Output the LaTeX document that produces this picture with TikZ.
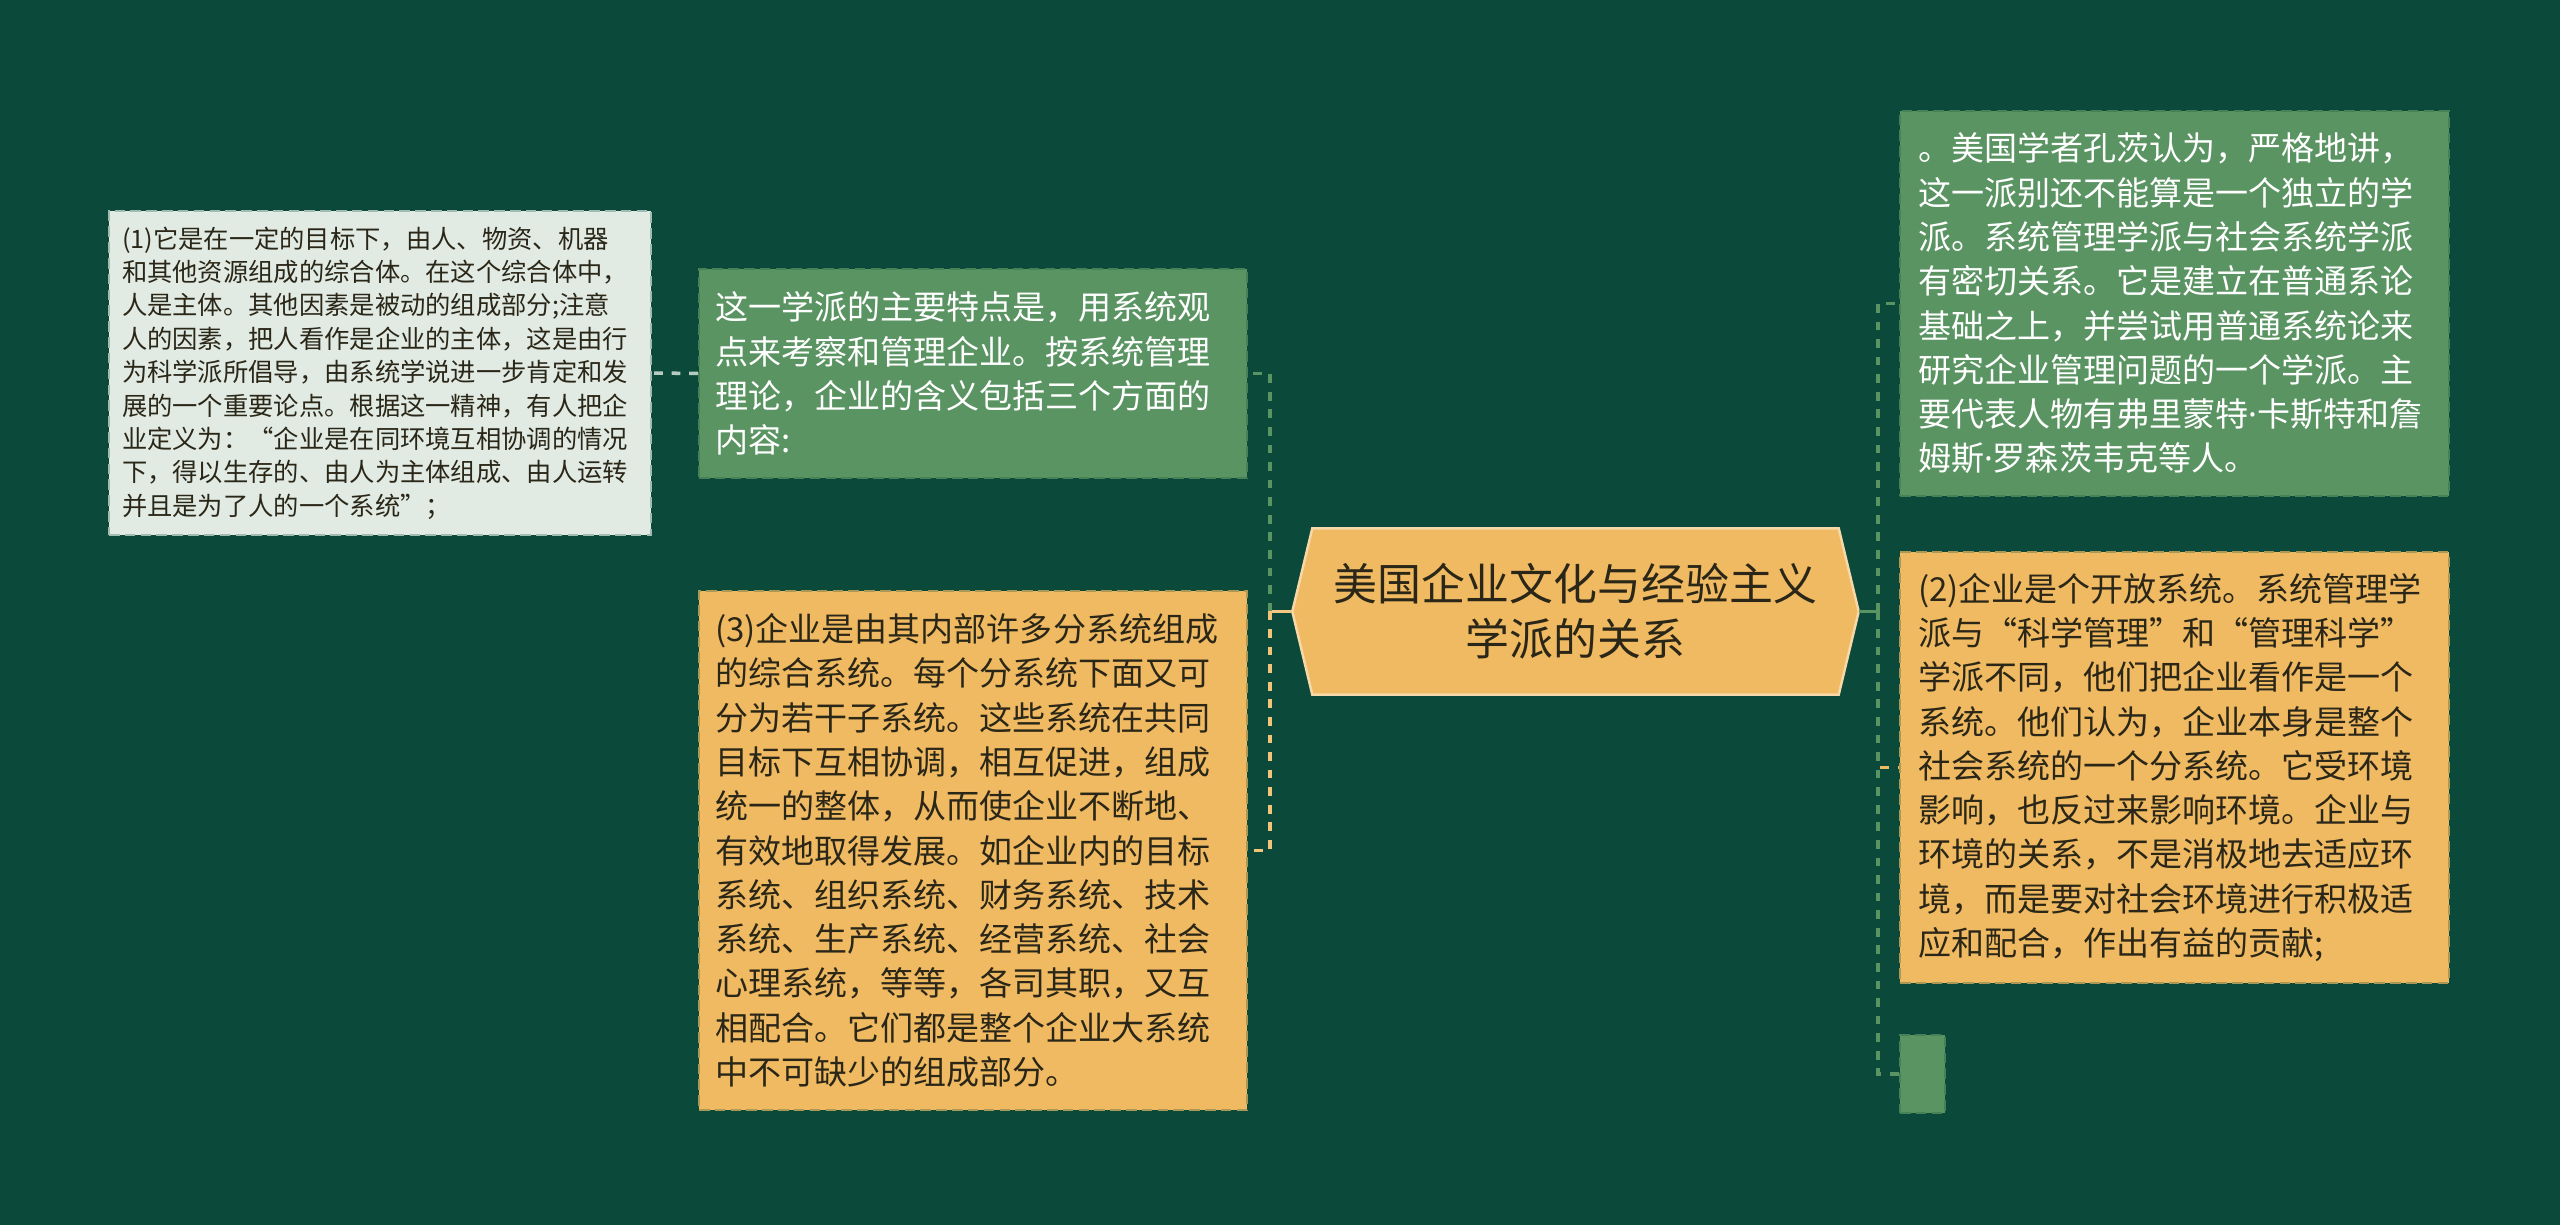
\documentclass[tikz,border=0pt]{standalone}
\usepackage{fontspec}
\setmainfont{Noto Sans CJK SC}
\newfontfamily\latinfont{Noto Sans}
\newcommand\mdot{{\latinfont ·}}
\usetikzlibrary{backgrounds}
\definecolor{bgcol}{HTML}{0B4A3A}
\definecolor{grcol}{HTML}{5A9462}
\definecolor{orcol}{HTML}{F0BA62}
\definecolor{ltcol}{HTML}{E1EBE3}
\definecolor{txdark}{HTML}{2B2718}
\begin{document}
\begin{tikzpicture}[x=1cm,y=-1cm,
  card/.style={rectangle,align=left,inner ysep=0pt,line width=0.6pt,dash pattern=on 3pt off 1.5pt,
    font=\fontsize{9.4pt}{12.6pt}\selectfont},
  greencard/.style={card,fill=grcol,draw=grcol!75!bgcol,text=white},
  orangecard/.style={card,fill=orcol,draw=orcol!70!bgcol,text=txdark},
  lightcard/.style={card,fill=ltcol,draw=ltcol!70!bgcol,text=txdark,
    font=\fontsize{7.2pt}{9.5pt}\selectfont},
  link/.style={line width=1pt},
  dlink/.style={link,dash pattern=on 2.5pt off 2.5pt}]
\useasboundingbox (0,0) rectangle (25.6,12.25);
\node[text=txdark,align=center,minimum width=5.65cm,minimum height=1.65cm,inner sep=0pt,
  font=\fontsize{12.5pt}{15.6pt}\selectfont] (root) at (15.755,6.115)
  {美国企业文化与经验主义\\学派的关系};
\begin{scope}[on background layer]
\fill[bgcol] (0,0) rectangle (25.6,12.25);
\filldraw[fill=orcol,draw=orcol!55!white,line width=0.7pt] (root.west) -- ([xshift=0.2cm]root.north west)
  -- ([xshift=-0.2cm]root.north east) -- (root.east) -- ([xshift=-0.2cm]root.south east)
  -- ([xshift=0.2cm]root.south west) -- cycle;
\end{scope}
\node[greencard,text width=5.16cm,inner xsep=0.16cm,minimum height=2.09cm] (feat) at (9.73,3.735)
  {这一学派的主要特点是，用系统观\\点来考察和管理企业。按系统管理\\理论，企业的含义包括三个方面的\\内容:};
\node[orangecard,text width=5.16cm,inner xsep=0.16cm,minimum height=5.19cm] (part3) at (9.73,8.505)
  {(3)企业是由其内部许多分系统组成\\的综合系统。每个分系统下面又可\\分为若干子系统。这些系统在共同\\目标下互相协调，相互促进，组成\\统一的整体，从而使企业不断地、\\有效地取得发展。如企业内的目标\\系统、组织系统、财务系统、技术\\系统、生产系统、经营系统、社会\\心理系统，等等，各司其职，又互\\相配合。它们都是整个企业大系统\\中不可缺少的组成部分。};
\node[lightcard,text width=5.16cm,inner xsep=0.13cm,minimum height=3.24cm] (part1) at (3.80,3.73)
  {(1)它是在一定的目标下，由人、物资、机器\\和其他资源组成的综合体。在这个综合体中，\\人是主体。其他因素是被动的组成部分;注意\\人的因素，把人看作是企业的主体，这是由行\\为科学派所倡导，由系统学说进一步肯定和发\\展的一个重要论点。根据这一精神，有人把企\\业定义为：“企业是在同环境互相协调的情况\\下，得以生存的、由人为主体组成、由人运转\\并且是为了人的一个系统”；};
\node[greencard,text width=5.13cm,inner xsep=0.18cm,minimum height=3.85cm] (kuhn) at (21.745,3.035)
  {。美国学者孔茨认为，严格地讲，\\这一派别还不能算是一个独立的学\\派。系统管理学派与社会系统学派\\有密切关系。它是建立在普通系论\\基础之上，并尝试用普通系统论来\\研究企业管理问题的一个学派。主\\要代表人物有弗里蒙特\mdot 卡斯特和詹\\姆斯\mdot 罗森茨韦克等人。};
\node[orangecard,text width=5.13cm,inner xsep=0.18cm,minimum height=4.31cm] (part2) at (21.745,7.675)
  {(2)企业是个开放系统。系统管理学\\派与“科学管理”和“管理科学”\\学派不同，他们把企业看作是一个\\系统。他们认为，企业本身是整个\\社会系统的一个分系统。它受环境\\影响，也反过来影响环境。企业与\\环境的关系，不是消极地去适应环\\境，而是要对社会环境进行积极适\\应和配合，作出有益的贡献;};
\node[greencard,minimum width=0.45cm,minimum height=0.78cm,inner sep=0pt] (blank) at (19.225,10.74) {};
\coordinate (jl) at (12.70,6.115);
\coordinate (jr) at (18.78,6.115);
\draw[link,orcol!80!white] (root.west) -- (jl);
\draw[dlink,grcol] (jl) |- (feat.east);
\draw[dlink,orcol!85!white] (jl) |- (part3.east);
\draw[dlink,ltcol!80!bgcol] (feat.west) -- (part1.east);
\draw[dlink,orcol] (jr) |- (part2.west);
\draw[dlink,grcol] (jr) |- (kuhn.west);
\draw[dlink,grcol] (jr) |- (blank.west);
\draw[link,grcol] (root.east) -- (jr);
\end{tikzpicture}
\end{document}
